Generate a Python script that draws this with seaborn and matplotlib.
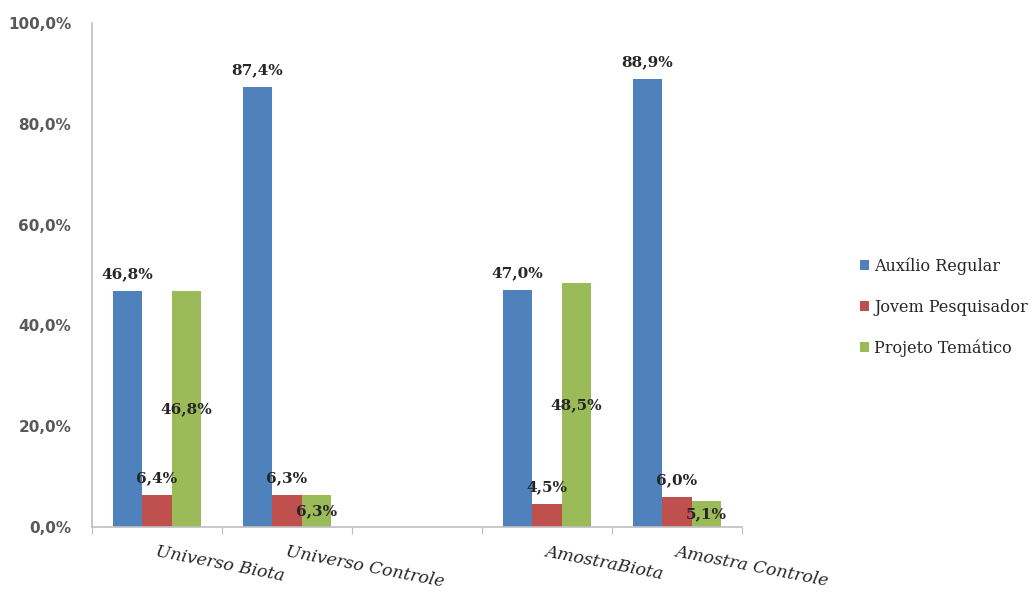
import pandas as pd
import matplotlib.pyplot as plt
import seaborn as sns
from matplotlib.ticker import FuncFormatter, FixedLocator

# grupos (a categoria vazia abre o espaco entre Universo e Amostra)
grupos = ['Universo Biota', 'Universo Controle', ' ', 'AmostraBiota', 'Amostra Controle']
grupos_dados = ['Universo Biota', 'Universo Controle', 'AmostraBiota', 'Amostra Controle']
series = ['Auxílio Regular', 'Jovem Pesquisador', 'Projeto Temático']
auxilio_regular = [46.8, 87.4, 47.0, 88.9]
jovem_pesquisador = [6.4, 6.3, 4.5, 6.0]
projeto_tematico = [46.8, 6.3, 48.5, 5.1]
cores = ['#4F81BD', '#C0504D', '#9BBB59']


def fmt_pct(v):
    return f"{v:.1f}%".replace('.', ',')


def main():
    rows = []
    for nome, vals in zip(series, [auxilio_regular, jovem_pesquisador, projeto_tematico]):
        for g, v in zip(grupos_dados, vals):
            rows.append({'grupo': g, 'serie': nome, 'valor': v})
    df = pd.DataFrame(rows)

    sns.set_style('white')
    plt.rcParams['font.family'] = ['DejaVu Serif']

    fig = plt.figure(figsize=(10.34, 5.96), dpi=100)
    ax = fig.add_axes([92 / 1034, 1 - 527 / 596, 650 / 1034, 504 / 596])

    sns.barplot(data=df, x='grupo', y='valor', hue='serie', order=grupos,
                hue_order=series, palette=cores, width=0.68, linewidth=0,
                saturation=1, ax=ax)

    # rotulos de dados
    for i, cont in enumerate(ax.containers):
        labels = [fmt_pct(v) for v in cont.datavalues]
        if i == 2:
            ax.bar_label(cont, labels=labels, label_type='center',
                         fontsize=11, fontweight='bold', color='#262626')
        else:
            ax.bar_label(cont, labels=labels, label_type='edge', padding=7,
                         fontsize=11, fontweight='bold', color='#262626')

    ax.set_ylim(0, 100)
    ax.set_xlim(-0.5, len(grupos) - 0.5)
    ax.set_yticks([0, 20, 40, 60, 80, 100])
    ax.yaxis.set_major_formatter(FuncFormatter(lambda v, p: fmt_pct(v)))
    for t in ax.get_yticklabels():
        t.set_family('DejaVu Sans')
        t.set_fontweight('bold')
        t.set_color('#595959')
        t.set_fontsize(11)
    ax.tick_params(axis='y', length=4, width=0.8, color='#BFBFBF', pad=11)

    # rotulos do eixo x inclinados
    ax.set_xticks(range(len(grupos)))
    ax.set_xticklabels(grupos, rotation=-11, ha='left', va='top',
                       rotation_mode='anchor', style='italic', fontsize=12.5,
                       color='#262626')
    ax.tick_params(axis='x', which='major', length=0, pad=12)
    ax.xaxis.set_minor_locator(FixedLocator([i - 0.5 for i in range(len(grupos) + 1)]))
    ax.tick_params(axis='x', which='minor', length=5, width=0.8, color='#BFBFBF',
                   direction='out', bottom=True)

    ax.set_xlabel('')
    ax.set_ylabel('')
    sns.despine(ax=ax)
    for s in ['left', 'bottom']:
        ax.spines[s].set_color('#BFBFBF')
        ax.spines[s].set_linewidth(1.2)

    handles, labels = ax.get_legend_handles_labels()
    ax.get_legend().remove()
    fig.legend(handles, labels, loc='center left', bbox_to_anchor=(854 / 1034, 1 - 307 / 596),
               frameon=False, fontsize=11.5, handlelength=0.55, handleheight=0.55,
               handletextpad=0.3, labelspacing=1.5, borderaxespad=0)

    fig.savefig('out.png', dpi=100)
    plt.close(fig)


if __name__ == "__main__":
    main()
